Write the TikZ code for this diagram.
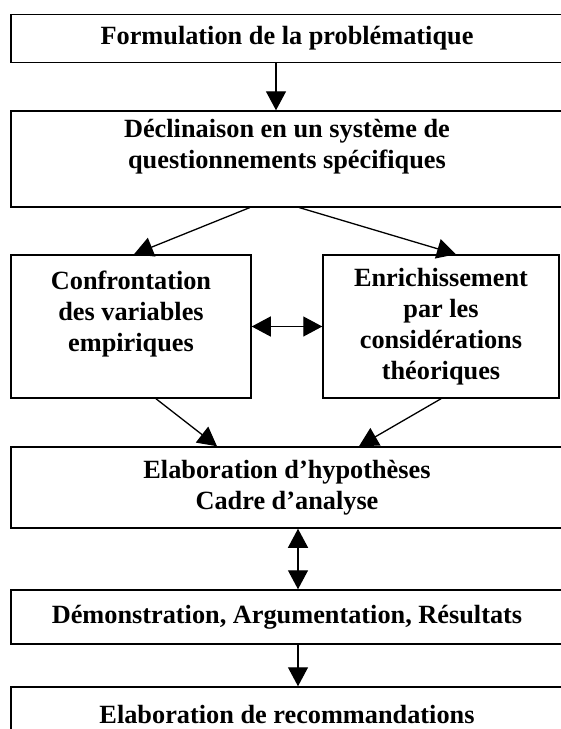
\documentclass[tikz,border=0pt]{standalone}
\usepackage{fontspec}
\setmainfont{Liberation Serif}
\usetikzlibrary{arrows.meta}

\begin{document}
\begin{tikzpicture}[x=1pt, y=-1pt, >={Triangle[length=19pt,width=20pt]}, line width=1.3pt,
etape/.style ={draw, line width=1.5pt, inner sep=0pt, align=center, font=\fontsize{26.3}{31}\selectfont\bfseries},
large/.style ={etape, minimum width=552pt}]
\useasboundingbox (0,0) rectangle (561,729);
\clip (0,0) rectangle (561,729);

\node[large, minimum height=47.6pt] (probl) at (287,38.5) {Formulation de la problématique};
\node[large, minimum height=95.7pt] (decl) at (287,158.9) {Déclinaison en un système de\\questionnements spécifiques\\ \mbox{}};
\node[etape, minimum width=240pt, minimum height=143pt] (confr) at (131,326.5) {Confrontation\\des variables\\empiriques\\ \mbox{}};
\node[etape, minimum width=236pt, minimum height=143pt] (enrich) at (441,326.5) {Enrichissement\\par les\\considérations\\théoriques};
\node[large, minimum height=81pt] (hypo) at (287,487.5) {Elaboration d’hypothèses\\Cadre d’analyse};
\node[large, minimum height=54pt] (demo) at (287,617) {Démonstration, Argumentation, Résultats};
\node[large, minimum height=54pt] (recom) at (287,714) {Elaboration de recommandations};

\draw [->] ([xshift=-11pt]probl.south) -- ([xshift=-11pt]decl.north);
\draw [->] ([xshift=-37pt]decl.south) -- ([xshift=3pt]confr.north);
\draw [->] ([xshift=12pt]decl.south) -- ([xshift=15pt]enrich.north);
\draw [<->] (confr.east) -- (enrich.west);
\draw [->] ([xshift=25pt]confr.south) -- ([xshift=-70pt]hypo.north);
\draw [->] (enrich.south) -- ([xshift=72pt]hypo.north);
\draw [<->] ([xshift=11pt]hypo.south) -- ([xshift=11pt]demo.north);
\draw [->] ([xshift=11pt]demo.south) -- ([xshift=11pt]recom.north);
\end{tikzpicture}
\end{document}
